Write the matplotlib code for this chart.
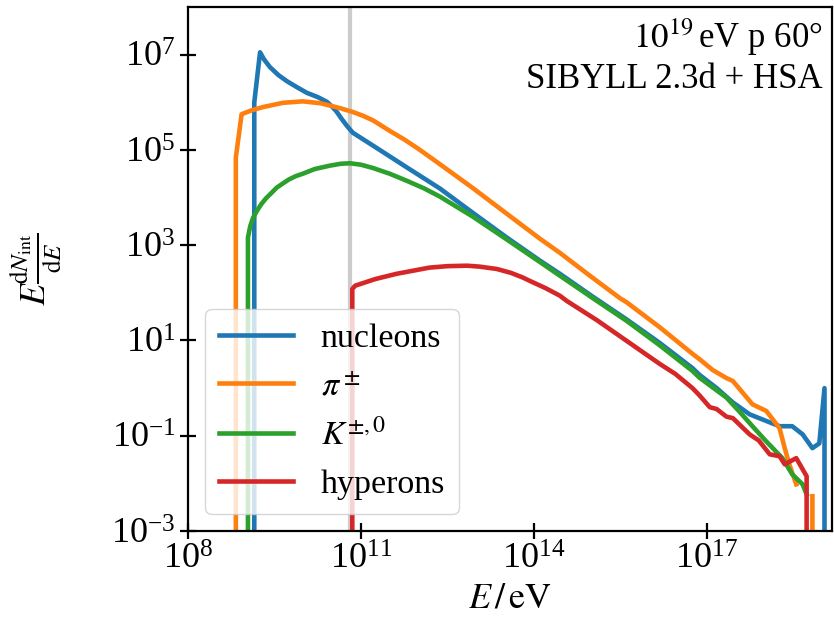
import numpy as np
import matplotlib
matplotlib.use("Agg")
import matplotlib.pyplot as plt

plt.rcParams['font.family'] = ['Liberation Serif', 'DejaVu Serif']
plt.rcParams['mathtext.fontset'] = 'stix'

# log10(E/eV) and log10(E dN/dE); -inf marks an empty bin, nan a gap
nuc_logE = [9.13, 9.15, 9.25, 9.32, 9.42, 9.57, 9.72, 9.90, 10.06, 10.25, 10.41, 10.50, 10.58, 10.66,
            10.76, 10.86, 11.21, 11.80, 12.37, 12.94, 13.53, 14.10, 14.45, 15.02, 15.61, 16.18,
            16.75, 16.87, 17.17, 17.45, 17.74, 18.03, 18.26, 18.48, 18.66, 18.83, 18.95, 19.04, 19.05]
nuc_logY = [-np.inf, 6.00, 7.05, 6.90, 6.74, 6.57, 6.44, 6.31, 6.20, 6.11, 6.01, 5.91, 5.80, 5.66,
            5.50, 5.36, 5.09, 4.63, 4.19, 3.68, 3.16, 2.68, 2.40, 1.92, 1.44, 0.95,
            0.42, 0.28, 0.00, -0.30, -0.55, -0.69, -0.80, -0.80, -0.97, -1.26, -1.16, 0.00, -np.inf]

pi_logE = [8.82, 8.83, 8.93, 9.10, 9.30, 9.65, 9.99, 10.30, 10.63, 10.85, 11.03, 11.21, 11.50, 11.75,
           12.00, 12.37, 12.94, 13.53, 14.10, 14.45, 14.97, 15.49, 15.61, 16.18, 16.75, 16.87,
           17.10, 17.34, 17.45, 17.79, 18.03, 18.26, 18.35, 18.43, 18.55, 18.65, 18.83, 18.84]
pi_logY = [-np.inf, 4.84, 5.75, 5.83, 5.90, 5.99, 6.02, 5.98, 5.88, 5.80, 5.72, 5.62, 5.40, 5.22,
           5.02, 4.70, 4.20, 3.66, 3.14, 2.84, 2.36, 1.89, 1.80, 1.28, 0.72, 0.61,
           0.38, 0.21, 0.15, -0.34, -0.48, -0.84, -1.26, -1.60, -2.02, np.nan, -2.27, -np.inf]

kaon_logE = [9.03, 9.04, 9.08, 9.13, 9.20, 9.27, 9.35, 9.45, 9.54, 9.65, 9.75, 9.87, 9.99, 10.20,
             10.46, 10.65, 10.81, 11.00, 11.21, 11.50, 11.80, 12.10, 12.37, 12.94, 13.53, 14.10,
             14.45, 15.02, 15.61, 16.18, 16.75, 16.87, 17.34, 17.57, 17.79, 18.03, 18.31, 18.48,
             18.66, 18.73]
kaon_logY = [-np.inf, 3.16, 3.40, 3.58, 3.73, 3.86, 3.98, 4.10, 4.21, 4.30, 4.38, 4.45, 4.50, 4.60,
             4.67, 4.71, 4.72, 4.69, 4.62, 4.50, 4.35, 4.19, 4.02, 3.60, 3.12, 2.65,
             2.36, 1.89, 1.41, 0.90, 0.36, 0.22, -0.20, -0.50, -0.80, -1.12, -1.47, -1.81,
             -2.02, -2.23]

hyp_logE = [10.83, 10.85, 10.90, 11.25, 11.62, 12.19, 12.50, 12.84, 13.06, 13.36, 13.60, 13.81,
            13.93, 14.20, 14.45, 14.57, 15.10, 15.61, 16.18, 16.45, 16.75, 16.87, 17.05, 17.17,
            17.34, 17.45, 17.74, 17.90, 18.09, 18.26, 18.35, 18.55, 18.73, 18.74]
hyp_logY = [-np.inf, 2.08, 2.15, 2.29, 2.40, 2.53, 2.56, 2.57, 2.55, 2.50, 2.42, 2.32,
            2.25, 2.10, 1.94, 1.83, 1.42, 0.99, 0.51, 0.30, 0.00, -0.15, -0.40, -0.44,
            -0.60, -0.63, -0.97, -1.10, -1.39, -1.43, -1.60, -1.47, -1.85, -np.inf]

labels = ['nucleons', r'$\pi^\pm$', r'$K^{\pm,0}$', 'hyperons']
colors = ['tab:blue', 'tab:orange', 'tab:green', 'tab:red']
series = [(nuc_logE, nuc_logY), (pi_logE, pi_logY), (kaon_logE, kaon_logY), (hyp_logE, hyp_logY)]

E_cut = 10**10.81

fig = plt.figure(figsize=(8.34, 6.4), dpi=100)
ax = fig.add_axes([0.2254, 0.1703, 0.7722, 0.8187])

ax.axvline(E_cut, color='#cccccc', lw=3, zorder=1)
for (lx, ly), lab, c in zip(series, labels, colors):
    ax.plot(10**np.array(lx), 10**np.array(ly), color=c, lw=3.3, label=lab, zorder=2)

ax.set_xscale('log')
ax.set_yscale('log')
ax.set_xlim(1e8, 10**19.17)
ax.set_ylim(1e-3, 1e8)
ax.set_xticks([1e8, 1e11, 1e14, 1e17])
ax.set_yticks([1e-3, 1e-1, 1e1, 1e3, 1e5, 1e7])
ax.minorticks_off()
ax.tick_params(labelsize=26, direction='inout', length=11, width=1.6)
for s in ax.spines.values():
    s.set_linewidth(1.6)

ax.set_xlabel(r'$E\,/\,\mathrm{eV}$', fontsize=26)
ax.set_ylabel(r'$E\frac{\mathrm{d}N_\mathrm{int}}{\mathrm{d}E}$', fontsize=26, labelpad=34)

ax.text(0.985, 0.982, '$10^{19}\\,$eV p 60°\nSIBYLL 2.3d + HSA', transform=ax.transAxes,
        ha='right', va='top', fontsize=25, linespacing=1.2)

ax.legend(loc='lower left', fontsize=24.5, handlelength=2.2, labelspacing=0.52,
          borderaxespad=0.5)

fig.savefig('out.png', dpi=100)
